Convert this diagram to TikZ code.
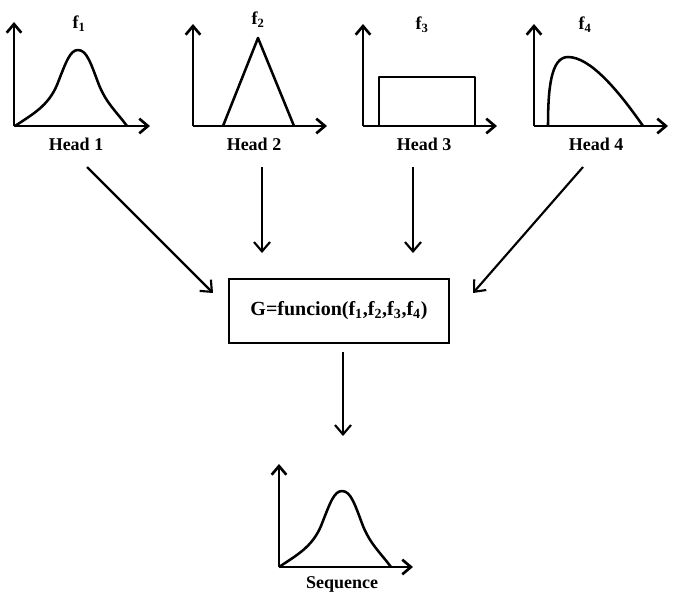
\documentclass[tikz,border=0pt]{standalone}
\usepackage{fontspec}
\setmainfont{Liberation Serif}
\usetikzlibrary{arrows.meta}

\tikzset{
  axis/.style={line width=2pt, -{Straight Barb[length=6.5pt,width=11pt]}},
  curve/.style={line width=1.9pt, line join=round},
  link/.style={line width=1.6pt, -{Straight Barb[length=7pt,width=12pt]}},
  lbl/.style={font=\fontsize{13.5}{16}\selectfont\bfseries, inner sep=1pt},
  funbox/.style={draw, line width=1.8pt, minimum width=165pt, minimum height=48pt,
    font=\fontsize{15}{18}\selectfont\bfseries}
}

\begin{document}
\begin{tikzpicture}[x=0.75pt,y=0.75pt,yscale=-1,xscale=1]
\useasboundingbox (0,0) rectangle (685,601);

% Axes
\draw [axis] (14,126) -- (14,22);
\draw [axis] (14,126) -- (150,126);
\draw [axis] (193,126) -- (193,24);
\draw [axis] (193,126) -- (327,126);
\draw [axis] (363,126) -- (363,24);
\draw [axis] (363,126) -- (497,126);
\draw [axis] (534,126) -- (534,24);
\draw [axis] (534,126) -- (668,126);
\draw [axis] (279,567) -- (279,464);
\draw [axis] (279,567) -- (413,567);

% Bell curve
\draw [curve] (15,126) .. controls (33,114) and (48,106) .. (57,85) .. controls (66,62) and (70,50) .. (78,50) .. controls (87,50) and (91,64) .. (99,85) .. controls (107,104) and (115,110) .. (127,126);

% Triangle
\draw [curve] (223,126) -- (258,38) -- (294,126);

% Rectangle
\draw [curve] (379,126) -- (379,77) -- (475,77) -- (475,126);

% Skewed curve
\draw [curve] (548,126) .. controls (548,88) and (551,57) .. (568,57) .. controls (590,57) and (618,90) .. (643,126);

% Bell curve (output)
\draw [curve, shift={(264,441)}] (15,126) .. controls (33,114) and (48,106) .. (57,85) .. controls (66,62) and (70,50) .. (78,50) .. controls (87,50) and (91,64) .. (99,85) .. controls (107,104) and (115,110) .. (127,126);

% Text Node
\draw (79,24) node (f1) [lbl] {f\textsubscript{1}};
\draw (258,20) node (f2) [lbl] {f\textsubscript{2}};
\draw (422,25) node (f3) [lbl] {f\textsubscript{3}};
\draw (585,25) node (f4) [lbl] {f\textsubscript{4}};
\draw (76,144) node (head1) [lbl] {Head 1};
\draw (254,144) node (head2) [lbl] {Head 2};
\draw (424,144) node (head3) [lbl] {Head 3};
\draw (596,144) node (head4) [lbl] {Head 4};
\draw (342,584) node (seq) [lbl] {Sequence};

% Function box
\draw (339,311) node (fun) [funbox] {G=funcion(f\textsubscript{1},f\textsubscript{2},f\textsubscript{3},f\textsubscript{4})};

% Connector ends
\coordinate (h1out) at (87,167);
\coordinate (h2out) at (262,167);
\coordinate (h3out) at (413,167);
\coordinate (h4out) at (583,167);
\coordinate (g1in) at (213,293);
\coordinate (g2in) at (262,253);
\coordinate (g3in) at (413,253);
\coordinate (g4in) at (473,293);
\coordinate (gout) at (343,352);
\coordinate (seqin) at (343,436);

\draw [link] (h1out) -- (g1in);
\draw [link] (h2out) -- (g2in);
\draw [link] (h3out) -- (g3in);
\draw [link] (h4out) -- (g4in);
\draw [link] (gout) -- (seqin);

\end{tikzpicture}
\end{document}
